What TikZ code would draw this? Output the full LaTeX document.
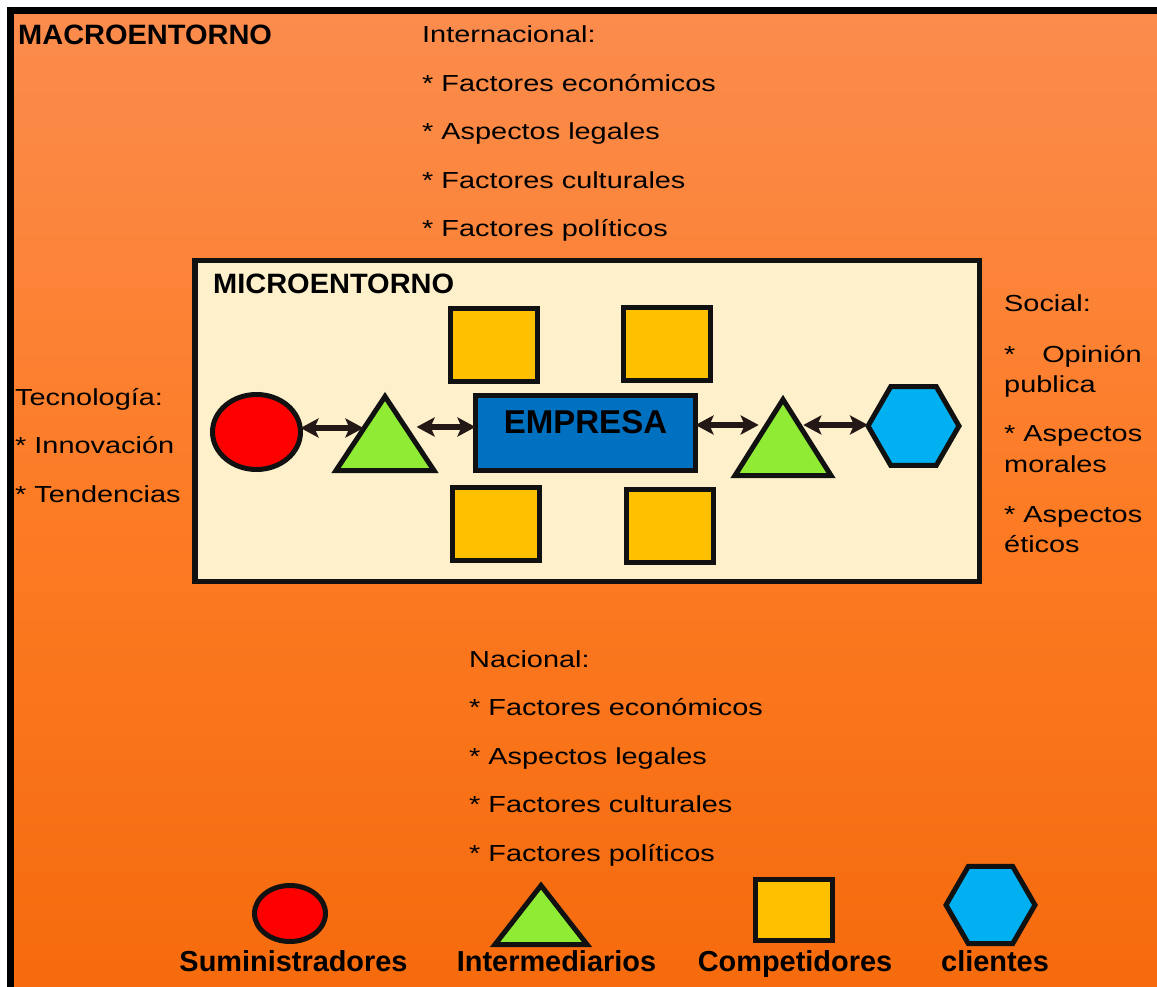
\documentclass[tikz,border=0pt]{standalone}
\usepackage{fontspec}
\setmainfont{Liberation Sans}
\newfontfamily\regfont[FakeStretch=1.245]{Liberation Sans}
\newfontfamily\ttlfont[FakeStretch=1.035]{Liberation Sans}
\usetikzlibrary{shapes.geometric,arrows.meta,calc}
\definecolor{bgtop}{HTML}{FB8C4D}
\definecolor{bgmid}{HTML}{FC7B24}
\definecolor{bgbot}{HTML}{F5690B}
\definecolor{cream}{HTML}{FFF0CC}
\definecolor{sqyellow}{HTML}{FFC000}
\definecolor{empblue}{HTML}{0070C0}
\definecolor{trigreen}{HTML}{8FEB34}
\definecolor{hexcyan}{HTML}{00B0F0}
\definecolor{arrowc}{HTML}{231815}
\definecolor{edgec}{HTML}{111111}
\begin{document}
\begin{tikzpicture}[x=1pt,y=-1pt,
  shapebase/.style={draw=edgec, line width=5pt, inner sep=0pt, outer sep=0pt},
  sqbox/.style={shapebase, rectangle, fill=sqyellow, minimum width=87pt, minimum height=73pt},
  ellbox/.style={shapebase, ellipse, fill=red},
  tribox/.style={shapebase, isosceles triangle, isosceles triangle stretches, shape border rotate=90, fill=trigreen, anchor=apex},
  hexbox/.style={shapebase, regular polygon, regular polygon sides=6, fill=hexcyan},
  dbl/.style={draw=arrowc, line width=6pt, {Stealth[length=18pt,width=19pt,inset=4pt]}-{Stealth[length=18pt,width=19pt,inset=4pt]}},
  reg/.style={font=\regfont\fontsize{23.2}{28}\selectfont, anchor=base west, inner sep=0pt, text=black},
  ttl/.style={font=\ttlfont\bfseries\fontsize{28}{34}\selectfont, anchor=base west, inner sep=0pt, text=black},
  leg/.style={font=\bfseries\fontsize{28.9}{34}\selectfont, anchor=base, inner sep=0pt, text=black}
]
\useasboundingbox (0,0) rectangle (1157,987);
\clip (0,0) rectangle (1157,987);
\fill[white] (0,0) rectangle (1157,987);
% macro environment
\fill[top color=bgtop, bottom color=bgbot, middle color=bgmid] (10.5,10.5) rectangle (1200,1030);
\draw[black, line width=6.5pt] (10.5,10.5) rectangle (1200,1030);
\node[ttl] (macro) at (18,45) {MACROENTORNO};

% Internacional
\node[reg] (int0) at (422,43) {Internacional:};
\node[reg] (int1) at (422,92) {* Factores económicos};
\node[reg] (int2) at (422,140) {* Aspectos legales};
\node[reg] (int3) at (422,188.5) {* Factores culturales};
\node[reg] (int4) at (422,237) {* Factores políticos};

% Nacional
\node[reg] (nac0) at (469,667) {Nacional:};
\node[reg] (nac1) at (469,715.5) {* Factores económicos};
\node[reg] (nac2) at (469,764) {* Aspectos legales};
\node[reg] (nac3) at (469,812.5) {* Factores culturales};
\node[reg] (nac4) at (469,861) {* Factores políticos};

% Tecnologia
\node[reg] (tec0) at (15,405) {Tecnología:};
\node[reg] (tec1) at (15,453) {* Innovación};
\node[reg] (tec2) at (15,502) {* Tendencias};

% Social
\node[reg] (soc0) at (1004,312) {Social:};
\node[reg] (soc1a) at (1004,362) {*};
\node[reg, anchor=base east] (soc1b) at (1142,362) {Opinión};
\node[reg] (soc1c) at (1004,392) {publica};
\node[reg] (soc2) at (1004,441) {* Aspectos};
\node[reg] (soc2b) at (1004,472) {morales};
\node[reg] (soc3) at (1004,522) {* Aspectos};
\node[reg] (soc3b) at (1004,552) {éticos};

% micro environment
\node[draw=edgec, line width=5.5pt, fill=cream, rectangle, inner sep=0pt,
      minimum width=784.5pt, minimum height=320.5pt] (micro) at (587,421) {};
\node[ttl] (microt) at (213,293) {MICROENTORNO};

\node[sqbox] (sq1) at (494,344.5) {};
\node[sqbox] (sq2) at (667,343.5) {};
\node[sqbox] (sq3) at (495.5,524) {};
\node[sqbox] (sq4) at (670,525.5) {};

\node[shapebase, rectangle, fill=empblue, minimum width=220pt, inner sep=0pt,
      text height=37.5pt, text depth=37.5pt, font=\bfseries\fontsize{33}{38}\selectfont]
      (emp) at (585.5,433) {EMPRESA};

\node[ellbox, minimum width=88pt, minimum height=75pt] (sup) at (256.5,432) {};
\node[tribox, minimum width=98pt, minimum height=74pt] (int) at (385,396.5) {};
\node[tribox, minimum width=96pt, minimum height=76pt] (intr) at (783,399.5) {};
\node[hexbox, minimum size=91pt] (cli) at (913.5,426) {};

\coordinate (ya) at (0,428);
\coordinate (yb) at (0,427);
\coordinate (yc) at (0,425);
\draw[dbl, shorten >=-10pt] (sup.east |- ya) -- (int.west |- ya);
\draw[dbl] (int.east |- yb) -- (emp.west |- yb);
\draw[dbl, shorten >=-7pt] (emp.east |- yc) -- (intr.west |- yc);
\draw[dbl, shorten <=-11pt] (intr.east |- yc) -- (cli.west |- yc);

% legend
\node[ellbox, minimum width=71pt, minimum height=56pt] (lsup) at (290,913.5) {};
\node[tribox, minimum width=92pt, minimum height=59pt] (lint) at (541,885.5) {};
\node[sqbox, minimum width=77pt, minimum height=61pt] (lcomp) at (794,910) {};
\node[hexbox, minimum size=89pt] (lcli) at (990.5,905) {};
\node[leg] (lsupt) at (293.5,971) {Suministradores};
\node[leg] (lintt) at (556.5,971) {Intermediarios};
\node[leg] (lcompt) at (795,971) {Competidores};
\node[leg] (lclit) at (995,971) {clientes};
\end{tikzpicture}
\end{document}
